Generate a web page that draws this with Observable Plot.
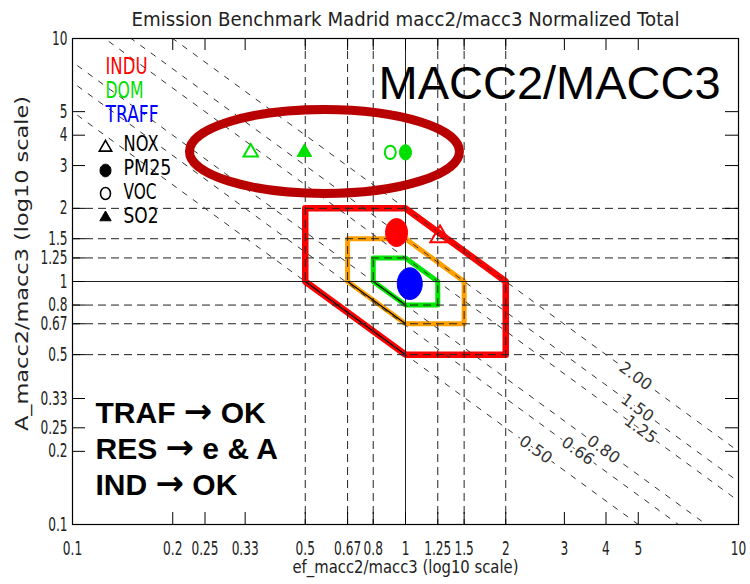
<!DOCTYPE html>
<html><head><meta charset="utf-8">
<script src="https://cdn.jsdelivr.net/npm/d3@7"></script>
<script src="https://cdn.jsdelivr.net/npm/@observablehq/plot@0.6"></script>
<style>
html,body{margin:0;padding:0;background:#fff;}
#chart svg{display:block;}
</style>
</head><body><div id="chart"></div>
<script>
// ---------- data ----------
const titleText = "Emission Benchmark Madrid macc2/macc3 Normalized Total";
const xLabel = "ef_macc2/macc3 (log10 scale)";
const yLabel = "A_macc2/macc3 (log10 scale)";
const axisTicks = [0.1, 0.2, 0.25, 0.33, 0.5, 0.67, 0.8, 1, 1.25, 1.5, 2, 3, 4, 5, 10];
const axisTickLabels = ["0.1", "0.2", "0.25", "0.33", "0.5", "0.67", "0.8", "1", "1.25", "1.5", "2", "3", "4", "5", "10"];
const gridDashed = [0.5, 0.67, 0.8, 1.25, 1.5, 2];
const gridSolid = [1];
const isoValues = [0.5, 0.66, 0.8, 1.25, 1.5, 2.0];
const isoLabels = ["0.50", "0.66", "0.80", "1.25", "1.50", "2.00"];
const isoLabelX = [2.46, 3.29, 3.93, 5.08, 4.97, 4.91];
const envelopeLow = [0.5, 0.67, 0.8];
const envelopeHigh = [2, 1.5, 1.25];
const pointSector = ["INDU", "INDU", "TRAFF", "DOM", "DOM", "DOM", "DOM"];
const pointSpecies = ["PM25", "NOX", "PM25", "NOX", "SO2", "VOC", "PM25"];
const pointX = [0.94, 1.27, 1.03, 0.343, 0.497, 0.90, 1.0];
const pointY = [1.59, 1.53, 0.98, 3.40, 3.40, 3.40, 3.40];
const sectorNames = ["INDU", "DOM", "TRAFF"];
const speciesNames = ["NOX", "PM25", "VOC", "SO2"];
const highlightX = [0.571];
const highlightY = [3.43];
const bigLabel = "MACC2/MACC3";
const verdictLines = ["TRAF \u2192 OK", "RES \u2192 e & A", "IND \u2192 OK"];

// ---------- styles ----------
const W = 750, H = 584, mt = 38, mr = 12, mb = 60, ml = 72;
const frameW = W - ml - mr, frameH = H - mt - mb;
const idl = "'DejaVu Sans',sans-serif";
const arial = "'Liberation Sans',Arial,sans-serif";
const sectorColor = {INDU: "#ff0000", DOM: "#00e000", TRAFF: "#0000ff"};
const envelopeStroke = ["#ff0000", "#ffa000", "#00e600"];
const envelopeWidth = [6.5, 5, 5];

function ellipseSymbol(aspect) {
  return {draw(ctx, size) {
    const rx = Math.sqrt(size / Math.PI), ry = rx * aspect, k = 0.5523;
    ctx.moveTo(rx, 0);
    ctx.bezierCurveTo(rx, k * ry, k * rx, ry, 0, ry);
    ctx.bezierCurveTo(-k * rx, ry, -rx, k * ry, -rx, 0);
    ctx.bezierCurveTo(-rx, -k * ry, -k * rx, -ry, 0, -ry);
    ctx.bezierCurveTo(k * rx, -ry, rx, -k * ry, rx, 0);
    ctx.closePath();
  }};
}

const points = pointX.map((x, i) => ({x, y: pointY[i], sector: pointSector[i], species: pointSpecies[i]}));
const envelopes = envelopeLow.map((lo, i) => {
  const hi = envelopeHigh[i];
  return [[lo, hi], [1, hi], [hi, 1], [hi, lo], [1, lo], [lo, 1], [lo, hi]].map(([x, y]) => ({x, y}));
});

function pointMark(d) {
  const c = sectorColor[d.sector];
  const big = d.sector !== "DOM";
  const base = {x: "x", y: "y"};
  if (d.species === "NOX") return Plot.dot([d], {...base, symbol: "triangle", r: big ? 7.2 : 5.4, fill: "none", stroke: c, strokeWidth: 2});
  if (d.species === "SO2") return Plot.dot([d], {...base, symbol: "triangle", r: 5.4, fill: c, stroke: c, strokeWidth: 1});
  if (d.species === "VOC") return Plot.dot([d], {...base, symbol: ellipseSymbol(1.2), r: 5.5, fill: "none", stroke: c, strokeWidth: 2});
  return Plot.dot([d], {...base, symbol: ellipseSymbol(1.27), r: big ? (d.sector === "TRAFF" ? 12.5 : 11) : 6, fill: c, stroke: c, strokeWidth: 1});
}

const legendSymbol = {
  NOX: {symbol: "triangle", fill: "none", stroke: "black", strokeWidth: 1.6, r: 4.6, dy: 4},
  PM25: {symbol: ellipseSymbol(1.15), fill: "black", stroke: "black", r: 5.5, dy: 3},
  VOC: {symbol: ellipseSymbol(1.2), fill: "none", stroke: "black", strokeWidth: 1.6, r: 5, dy: 2},
  SO2: {symbol: "triangle", fill: "black", stroke: "black", r: 4.2, dy: 2}
};
const sectorTextWidth = {INDU: 42, DOM: 38, TRAFF: 53};
const speciesTextWidth = {NOX: 35, PM25: 48, VOC: 33, SO2: 35};

const marks = [
  // envelopes
  ...envelopes.map((pts, i) => Plot.line(pts, {x: "x", y: "y", stroke: envelopeStroke[i], strokeWidth: envelopeWidth[i], strokeLinejoin: "round", strokeLinecap: "round"})),
  Plot.link(envelopeLow, {x1: d => d, y1: 1, x2: 1, y2: d => d, stroke: "black", strokeWidth: 1.2}),
  // grid
  Plot.ruleX(gridDashed, {stroke: "#222", strokeDasharray: "8,5", strokeWidth: 1}),
  Plot.ruleY(gridDashed, {stroke: "#222", strokeDasharray: "8,5", strokeWidth: 1}),
  Plot.ruleX(gridSolid, {stroke: "#222", strokeWidth: 1}),
  Plot.ruleY(gridSolid, {stroke: "#222", strokeWidth: 1}),
  // iso lines x*y = c
  Plot.link(isoValues, {x1: 0.05, y1: d => d / 0.05, x2: 20, y2: d => d / 20, stroke: "#333", strokeDasharray: "6,7", strokeWidth: 1, clip: true}),
  Plot.text(isoValues, {x: (d, i) => isoLabelX[i], y: (d, i) => d / isoLabelX[i], text: (d, i) => isoLabels[i], rotate: 36, fill: "#333", stroke: "white", strokeWidth: 5, paintOrder: "stroke", fontSize: 16, fontFamily: idl, className: "iso"}),
  // points
  ...points.map(pointMark),
  // highlight ellipse
  Plot.dot(highlightX, {x: d => d, y: (d, i) => highlightY[i], symbol: ellipseSymbol(0.311), r: 135, fill: "none", stroke: "#b80000", strokeWidth: 9}),
  // frame & ticks
  Plot.frame({stroke: "black", strokeWidth: 1.2}),
  Plot.tickX(axisTicks, {x: d => d, insetTop: frameH - 12, stroke: "black"}),
  Plot.tickX(axisTicks, {x: d => d, insetBottom: frameH - 12, stroke: "black"}),
  Plot.tickY(axisTicks, {y: d => d, insetRight: frameW - 13, stroke: "black"}),
  Plot.tickY(axisTicks, {y: d => d, insetLeft: frameW - 13, stroke: "black"}),
  // tick labels
  Plot.text(axisTicks, {x: d => d, text: (d, i) => axisTickLabels[i], frameAnchor: "bottom", lineAnchor: "middle", textAnchor: "middle", dy: 24, fontSize: 19, fontFamily: idl, fill: "#222", className: "tk"}),
  Plot.text(axisTicks, {y: d => d, text: (d, i) => axisTickLabels[i], frameAnchor: "left", lineAnchor: "middle", textAnchor: "end", dx: -5, fontSize: 19, fontFamily: idl, fill: "#222", className: "tk"}),
  // titles
  Plot.text([titleText], {frameAnchor: "top", lineAnchor: "middle", textAnchor: "middle", dy: -19, fontSize: 20, fontFamily: idl, fill: "#222", className: "ttl"}),
  Plot.text([xLabel], {frameAnchor: "bottom", lineAnchor: "middle", textAnchor: "middle", dy: 43, fontSize: 17, fontFamily: idl, fill: "#222", className: "xl"}),
  Plot.text([yLabel], {frameAnchor: "left", lineAnchor: "middle", textAnchor: "middle", dx: -50, dy: -18, rotate: -90, fontSize: 17, fontFamily: idl, fill: "#222", className: "yl"}),
  // legend
  ...sectorNames.map((s, i) => Plot.text([s], {frameAnchor: "top-left", lineAnchor: "middle", textAnchor: "start", dx: 33, dy: 28 + 24 * i, fontSize: 23, fontFamily: idl, fill: sectorColor[s], className: "lg-" + s})),
  ...speciesNames.map((s, i) => Plot.text([s], {frameAnchor: "top-left", lineAnchor: "middle", textAnchor: "start", dx: 51, dy: 105 + 24 * i, fontSize: 22, fontFamily: idl, fill: "black", className: "lg-" + s})),
  ...speciesNames.map((s, i) => {
    const o = legendSymbol[s];
    return Plot.dot([s], {frameAnchor: "top-left", dx: 33, dy: 105 + 24 * i + o.dy, symbol: o.symbol, r: o.r, fill: o.fill, stroke: o.stroke, strokeWidth: o.strokeWidth || 1});
  }),
  // annotations
  Plot.text([bigLabel], {frameAnchor: "top-left", lineAnchor: "middle", textAnchor: "start", dx: 306, dy: 45, fontSize: 47, fontFamily: arial, fill: "black"}),
  ...verdictLines.map((s, i) => Plot.text([s], {frameAnchor: "top-left", lineAnchor: "middle", textAnchor: "start", dx: 23, dy: 375 + 36 * i, fontSize: 30, fontWeight: "bold", fontFamily: arial, fill: "black", className: "vd"}))
];

const chart = Plot.plot({
  width: W, height: H,
  marginTop: mt, marginRight: mr, marginBottom: mb, marginLeft: ml,
  x: {type: "log", domain: [0.1, 10], axis: null},
  y: {type: "log", domain: [0.1, 10], axis: null},
  style: {background: "white", fontFamily: idl},
  marks
});
document.getElementById("chart").appendChild(chart);

// IDL vector-font look: squeeze texts horizontally to the reference's widths
function setLen(t, len) {
  t.setAttribute("textLength", len);
  t.setAttribute("lengthAdjust", "spacingAndGlyphs");
}
function fit(cls, len) { chart.querySelectorAll(`.${cls} text`).forEach(t => setLen(t, len)); }
function squeeze(cls, f) { chart.querySelectorAll(`.${cls} text`).forEach(t => setLen(t, t.getComputedTextLength() * f)); }
fit("ttl", 548);
fit("xl", 226);
fit("yl", 335);
fit("iso", 36);
squeeze("tk", 0.64);
Object.entries(sectorTextWidth).forEach(([k, v]) => fit("lg-" + k, v));
Object.entries(speciesTextWidth).forEach(([k, v]) => fit("lg-" + k, v));

// heavier arrow glyph, like the reference's symbol-font arrow
chart.querySelectorAll(".vd text").forEach(t => {
  const s = t.textContent, k = s.indexOf("\u2192");
  if (k < 0) return;
  t.textContent = "";
  const add = (str, font) => {
    const ts = document.createElementNS("http://www.w3.org/2000/svg", "tspan");
    ts.textContent = str;
    if (font) { ts.setAttribute("font-family", font); ts.setAttribute("font-size", "34"); }
    t.appendChild(ts);
  };
  add(s.slice(0, k));
  add("\u2192", "'DejaVu Sans'");
  add(s.slice(k + 1));
});
</script>
</body></html>
